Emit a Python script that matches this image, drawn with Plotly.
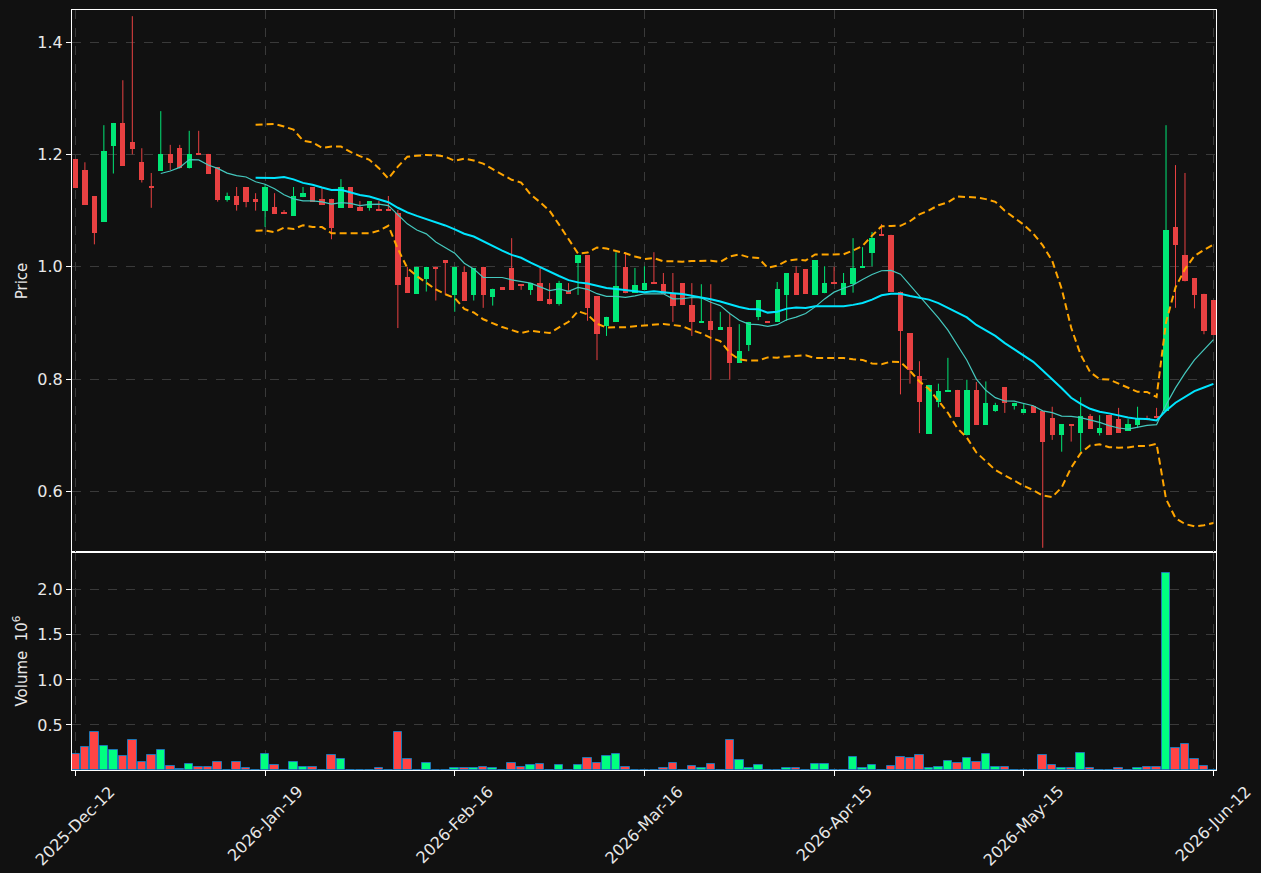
import plotly.graph_objects as go
import pandas as pd

# ---- data ----
opens = [1.192, 1.172, 1.126, 1.080, 1.215, 1.256, 1.222, 1.186, 1.142, 1.171,
         1.201, 1.211, 1.175, 1.201, 1.201, 1.177, 1.119, 1.126, 1.142, 1.121,
         1.100, 1.106, 1.097, 1.091, 1.124, 1.142, 1.121, 1.121, 1.105, 1.142,
         1.106, 1.105, 1.102, 1.102, 1.096, 0.982, 0.952, 0.979, 1.000, 1.012,
         0.950, 0.991, 0.950, 1.000, 0.947, 0.964, 0.998, 0.968, 0.959, 0.971,
         0.942, 0.934, 0.957, 1.006, 1.021, 0.948, 0.895, 0.902, 1.000, 0.954,
         0.958, 0.973, 0.969, 0.952, 0.971, 0.932, 0.901, 0.904, 0.888, 0.893,
         0.829, 0.861, 0.910, 0.903, 0.902, 0.950, 0.989, 0.996, 0.950, 0.953,
         0.971, 0.950, 0.970, 0.998, 1.025, 1.057, 1.057, 0.956, 0.882, 0.806,
         0.703, 0.760, 0.778, 0.781, 0.700, 0.781, 0.719, 0.744, 0.786, 0.753,
         0.740, 0.753, 0.743, 0.731, 0.700, 0.720, 0.705, 0.735, 0.705, 0.736,
         0.729, 0.708, 0.719, 0.731, 0.734, 0.743, 1.071, 1.021, 0.980, 0.952,
         0.941]
highs = [1.192, 1.186, 1.126, 1.252, 1.256, 1.332, 1.446, 1.211, 1.167, 1.277,
         1.217, 1.217, 1.242, 1.242, 1.201, 1.177, 1.132, 1.142, 1.142, 1.131,
         1.147, 1.131, 1.101, 1.142, 1.142, 1.142, 1.142, 1.121, 1.156, 1.142,
         1.117, 1.117, 1.117, 1.126, 1.101, 1.000, 1.000, 1.000, 1.000, 1.012,
         1.000, 1.001, 0.998, 1.000, 0.961, 0.964, 1.051, 0.968, 0.971, 0.998,
         0.971, 0.975, 0.971, 1.021, 1.021, 0.948, 0.911, 1.026, 1.026, 0.998,
         1.001, 1.026, 0.989, 0.989, 0.971, 0.971, 0.969, 0.969, 0.920, 0.916,
         0.898, 0.902, 0.941, 0.903, 0.973, 0.989, 1.001, 0.996, 1.012, 1.001,
         1.000, 0.989, 1.051, 1.035, 1.062, 1.076, 1.057, 0.956, 0.882, 0.832,
         0.790, 0.792, 0.838, 0.781, 0.799, 0.795, 0.796, 0.758, 0.786, 0.758,
         0.756, 0.753, 0.743, 0.751, 0.720, 0.720, 0.768, 0.738, 0.736, 0.736,
         0.749, 0.729, 0.751, 0.735, 0.749, 1.252, 1.181, 1.167, 0.980, 0.952,
         0.941]
lows = [1.140, 1.110, 1.040, 1.080, 1.166, 1.180, 1.200, 1.150, 1.105, 1.171,
        1.172, 1.175, 1.175, 1.199, 1.166, 1.116, 1.116, 1.100, 1.106, 1.100,
        1.071, 1.094, 1.094, 1.091, 1.124, 1.116, 1.110, 1.049, 1.105, 1.105,
        1.100, 1.100, 1.100, 1.100, 0.891, 0.954, 0.952, 0.956, 0.940, 0.950,
        0.920, 0.940, 0.940, 0.927, 0.931, 0.959, 0.959, 0.959, 0.950, 0.940,
        0.933, 0.931, 0.952, 0.950, 0.904, 0.834, 0.877, 0.902, 0.953, 0.954,
        0.958, 0.970, 0.952, 0.902, 0.932, 0.877, 0.901, 0.799, 0.888, 0.799,
        0.829, 0.850, 0.905, 0.900, 0.902, 0.904, 0.950, 0.952, 0.950, 0.953,
        0.970, 0.950, 0.954, 0.998, 1.001, 1.055, 0.956, 0.773, 0.792, 0.704,
        0.703, 0.750, 0.778, 0.733, 0.700, 0.719, 0.719, 0.742, 0.740, 0.746,
        0.740, 0.740, 0.500, 0.692, 0.671, 0.689, 0.671, 0.712, 0.700, 0.701,
        0.705, 0.708, 0.713, 0.727, 0.732, 0.743, 0.927, 0.974, 0.926, 0.880,
        0.879]
closes = [1.141, 1.110, 1.061, 1.206, 1.256, 1.180, 1.210, 1.154, 1.141, 1.201,
          1.185, 1.175, 1.201, 1.199, 1.166, 1.119, 1.126, 1.110, 1.116, 1.116,
          1.142, 1.094, 1.095, 1.126, 1.131, 1.116, 1.110, 1.069, 1.142, 1.105,
          1.100, 1.117, 1.100, 1.100, 0.968, 0.954, 1.000, 1.000, 0.997, 1.006,
          1.000, 0.940, 0.998, 0.949, 0.961, 0.959, 0.959, 0.966, 0.971, 0.940,
          0.934, 0.971, 0.952, 1.021, 0.927, 0.881, 0.911, 0.966, 0.953, 0.968,
          0.971, 0.970, 0.952, 0.930, 0.932, 0.901, 0.904, 0.888, 0.893, 0.829,
          0.850, 0.902, 0.941, 0.901, 0.961, 0.989, 0.950, 0.952, 1.012, 0.971,
          0.970, 0.971, 0.998, 1.000, 1.051, 1.055, 0.956, 0.885, 0.817, 0.760,
          0.790, 0.779, 0.781, 0.733, 0.781, 0.719, 0.758, 0.754, 0.757, 0.758,
          0.747, 0.740, 0.689, 0.701, 0.720, 0.716, 0.735, 0.712, 0.713, 0.701,
          0.705, 0.720, 0.729, 0.728, 0.732, 1.066, 1.039, 0.974, 0.950, 0.886,
          0.879]
volume_millions = [0.174, 0.252, 0.419, 0.263, 0.219, 0.152, 0.330, 0.085, 0.163, 0.219,
                   0.041, 0.010, 0.063, 0.030, 0.030, 0.085, 0.005, 0.085, 0.018, 0.005,
                   0.174, 0.052, 0.005, 0.085, 0.030, 0.030, 0.005, 0.163, 0.119, 0.003,
                   0.003, 0.003, 0.018, 0.003, 0.419, 0.119, 0.003, 0.074, 0.003, 0.003,
                   0.018, 0.018, 0.018, 0.030, 0.018, 0.005, 0.074, 0.030, 0.052, 0.063,
                   0.005, 0.052, 0.005, 0.052, 0.130, 0.074, 0.152, 0.174, 0.030, 0.005,
                   0.005, 0.005, 0.018, 0.074, 0.003, 0.041, 0.018, 0.063, 0.003, 0.330,
                   0.107, 0.018, 0.052, 0.003, 0.005, 0.018, 0.018, 0.005, 0.063, 0.063,
                   0.003, 0.003, 0.141, 0.018, 0.052, 0.003, 0.041, 0.141, 0.130, 0.163,
                   0.018, 0.030, 0.096, 0.074, 0.130, 0.085, 0.174, 0.030, 0.030, 0.003,
                   0.003, 0.003, 0.163, 0.052, 0.018, 0.018, 0.185, 0.018, 0.005, 0.005,
                   0.018, 0.005, 0.018, 0.030, 0.030, 2.185, 0.241, 0.285, 0.119, 0.041,
                   0.002]
tick_labels = ["2025-Dec-12", "2026-Jan-19", "2026-Feb-16", "2026-Mar-16",
               "2026-Apr-15", "2026-May-15", "2026-Jun-12"]
tick_index = [0, 20, 40, 60, 80, 100, 120]

# ---- derived series ----
n = len(closes)
x = list(range(n))
df = pd.DataFrame({"o": opens, "h": highs, "l": lows, "c": closes, "v": volume_millions})
sma10 = df["c"].rolling(10).mean()
sma20 = df["c"].rolling(20).mean()
std20 = df["c"].rolling(20).std()
upper = sma20 + 2 * std20
lower = sma20 - 2 * std20

up = df["c"] >= df["o"]
C_UP, C_DN = "#00e676", "#e84142"
V_UP, V_DN = "#00ff80", "#ff4444"
TXT = "#e8e8e8"

fig = go.Figure()

# wicks
for flag, col in [(True, C_UP), (False, C_DN)]:
    wx, wy = [], []
    for i in range(n):
        if bool(up[i]) == flag:
            wx += [i, i, None]
            wy += [lows[i], highs[i], None]
    fig.add_trace(go.Scatter(x=wx, y=wy, mode="lines", line=dict(color=col, width=1),
                             xaxis="x2", yaxis="y2", showlegend=False, hoverinfo="skip"))

# bodies
body_base = [min(o, c) for o, c in zip(opens, closes)]
body_h = [max(abs(c - o), 0.0018) for o, c in zip(opens, closes)]
fig.add_trace(go.Bar(x=x, y=body_h, base=body_base, width=0.56,
                     marker=dict(color=[C_UP if u else C_DN for u in up], line=dict(width=0)),
                     xaxis="x2", yaxis="y2", showlegend=False))

# indicators
fig.add_trace(go.Scatter(x=x, y=upper, mode="lines", line=dict(color="#ffa500", width=2, dash="7px,4px"),
                         xaxis="x2", yaxis="y2", showlegend=False))
fig.add_trace(go.Scatter(x=x, y=lower, mode="lines", line=dict(color="#ffa500", width=2, dash="7px,4px"),
                         xaxis="x2", yaxis="y2", showlegend=False))
fig.add_trace(go.Scatter(x=x, y=sma10, mode="lines", line=dict(color="#45c8be", width=1.2),
                         xaxis="x2", yaxis="y2", showlegend=False))
fig.add_trace(go.Scatter(x=x, y=sma20, mode="lines", line=dict(color="#00e5ff", width=2),
                         xaxis="x2", yaxis="y2", showlegend=False))

# volume
fig.add_trace(go.Bar(x=x, y=volume_millions, width=0.9,
                     marker=dict(color=[V_UP if u else V_DN for u in up],
                                 line=dict(color="#1f77b4", width=1)),
                     xaxis="x", yaxis="y", showlegend=False))

axis_common = dict(showline=True, linecolor="white", linewidth=1, mirror=True,
                   gridcolor="#3a3a3a", griddash="dash", gridwidth=1, zeroline=False,
                   automargin=False,
                   tickcolor="white", ticklen=5, tickfont=dict(size=16, color=TXT))
xr = [-0.36, 120.27]
split = 218 / 760

# rotated date labels centred under each tick
annotations = [dict(x=t, y=0, xref="x", yref="paper", text=lab, showarrow=False,
                    textangle=-45, xanchor="center", yanchor="top", yshift=-9,
                    font=dict(size=16, color=TXT, family="DejaVu Sans"))
               for t, lab in zip(tick_index, tick_labels)]

fig.update_layout(
    width=1261, height=873,
    margin=dict(l=72, r=45, t=10, b=103),
    paper_bgcolor="#111111", plot_bgcolor="#111111",
    font=dict(family="DejaVu Sans", color=TXT),
    barmode="overlay", bargap=0,
    annotations=annotations,
    xaxis=dict(domain=[0, 1], anchor="y", range=xr, tickmode="array",
               tickvals=tick_index, showticklabels=False,
               ticks="outside", showgrid=True, **axis_common),
    yaxis=dict(domain=[0, split], anchor="x", range=[0, 2.42], tickmode="array",
               tickvals=[0.5, 1.0, 1.5, 2.0], ticktext=["0.5", "1.0", "1.5", "2.0"],
               ticks="outside", showgrid=True,
               title=dict(text="Volume  10<sup>6</sup>", font=dict(size=15, color=TXT),
                          standoff=6),
               **axis_common),
    xaxis2=dict(domain=[0, 1], anchor="y2", range=xr, matches="x", tickmode="array",
                tickvals=tick_index, showticklabels=False, ticks="", showgrid=True, **axis_common),
    yaxis2=dict(domain=[split, 1], anchor="x2", range=[0.4925, 1.457], tickmode="array",
                tickvals=[0.6, 0.8, 1.0, 1.2, 1.4], ticktext=["0.6", "0.8", "1.0", "1.2", "1.4"],
                ticks="outside", showgrid=True,
                title=dict(text="Price", font=dict(size=15, color=TXT), standoff=6),
                **axis_common),
)

fig.write_html("out.html")
